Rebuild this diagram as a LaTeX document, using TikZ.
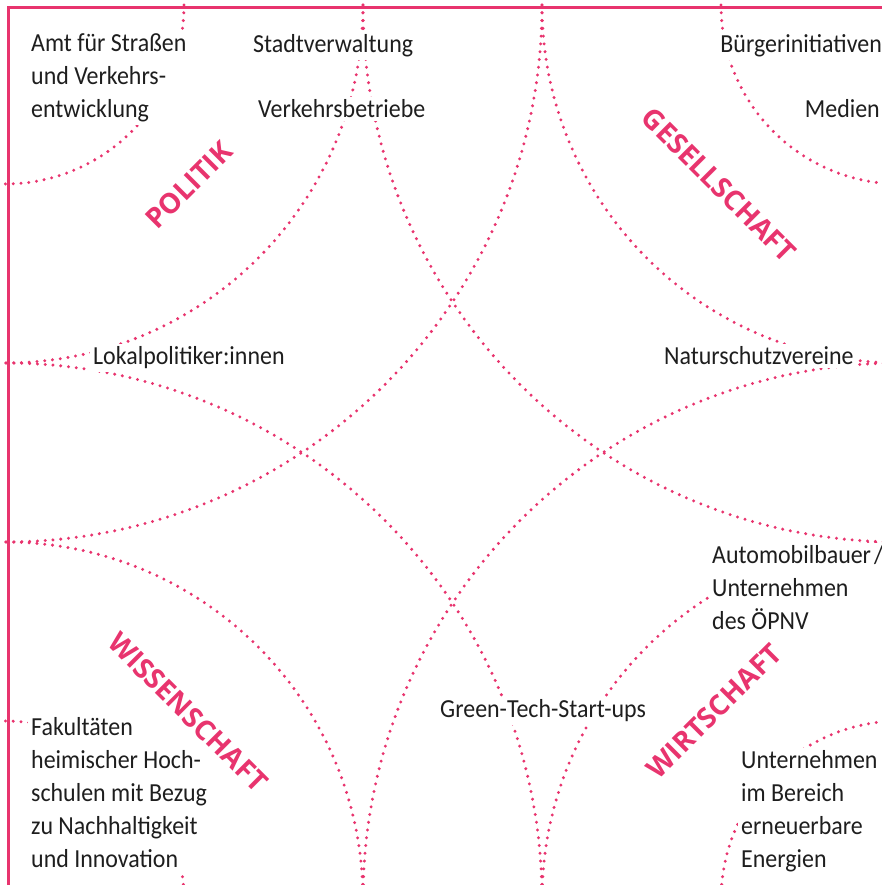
\documentclass[tikz,border=0pt]{standalone}
\usepackage{fontspec}
\setmainfont{Carlito}[FakeStretch=0.92]
\newfontfamily\catfont{Open Sans}
\definecolor{pinkc}{RGB}{232,52,110}
\definecolor{inkc}{RGB}{30,30,30}
\begin{document}
\begin{tikzpicture}[x=1pt,y=1pt,
  dotarc/.style={pinkc, line width=3.3pt, line cap=round, dash pattern=on 0pt off 7.8pt},
  framel/.style={pinkc, line width=3pt},
  lbl/.style={fill=white, inner sep=3pt, text=inkc, align=left,
    font=\fontsize{26}{33}\selectfont},
  cat/.style={text=pinkc, inner sep=0pt,
    font=\catfont\bfseries\fontsize{28}{28}\selectfont}]
\useasboundingbox (0,0) rectangle (882,885);
% corner centres of the arcs (image y -> 885 - y)
\coordinate (cTL) at (5,880);
\coordinate (cTR) at (900,880);
\coordinate (cBL) at (5,-15);
\coordinate (cBR) at (900,-15);
\foreach \r in {179,358,537} {
  \draw[dotarc] ([xshift=\r pt]cTL) arc[start angle=0,end angle=-90,radius=\r pt];
  \draw[dotarc] ([xshift=-\r pt]cTR) arc[start angle=180,end angle=270,radius=\r pt];
  \draw[dotarc] ([xshift=\r pt]cBL) arc[start angle=0,end angle=90,radius=\r pt];
  \draw[dotarc] ([xshift=-\r pt]cBR) arc[start angle=180,end angle=90,radius=\r pt];
}
% labels (base anchor = baseline of the last line)
\node[lbl, anchor=base west] (amt) at (28,767) {Amt für Straßen\\und Verkehrs-\\entwicklung};
\node[lbl, anchor=base west] (stadt) at (250,832) {Stadtverwaltung};
\node[lbl, anchor=base west] (vb) at (255,767) {Verkehrsbetriebe};
\node[lbl, anchor=base east] (buerger) at (885,832) {Bürgerinitiativen};
\node[lbl, anchor=base east] (medien) at (883,767) {Medien};
\node[lbl, anchor=base west] (lokal) at (90,520) {Lokalpolitiker:innen};
\node[lbl, anchor=base west] (natur) at (661,520) {Naturschutzvereine};
\node[lbl, anchor=base west] (auto) at (709,255) {Automobilbauer\hspace{3pt}/\\Unternehmen\\des ÖPNV};
\node[lbl, anchor=base west] (green) at (437,167) {Green-Tech-Start-ups};
\node[lbl, anchor=base west] (fak) at (28,17) {Fakultäten\\heimischer Hoch-\\schulen mit Bezug\\zu Nachhaltigkeit\\und Innovation};
\node[lbl, anchor=base west] (untern) at (738,17) {Unternehmen\\im Bereich\\erneuerbare\\Energien};
% category labels
\node[cat, rotate=45] (politik) at (189,700) {POLITIK};
\node[cat, rotate=-45] (gesell) at (719,700) {GESELLSCHAFT};
\node[cat, rotate=-45] (wissen) at (188,173) {WISSENSCHAFT};
\node[cat, rotate=45] (wirt) at (714,174) {WIRTSCHAFT};
% frame
\coordinate (fB) at (8,-10);
\coordinate (fC) at (8,877);
\coordinate (fR) at (892,877);
\draw[framel] (fB) -- (fC) -- (fR);
\end{tikzpicture}
\end{document}
